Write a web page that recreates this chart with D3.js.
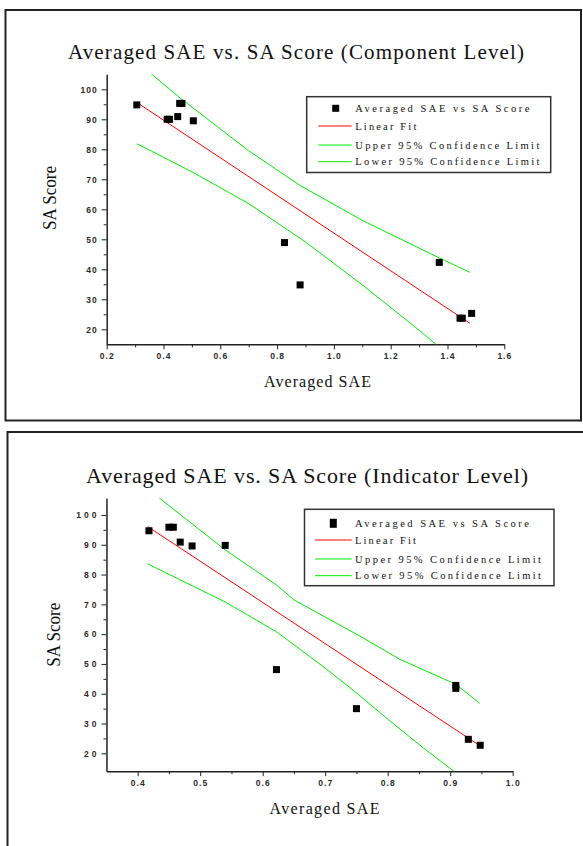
<!DOCTYPE html>
<html>
<head>
<meta charset="utf-8">
<script src="https://cdn.jsdelivr.net/npm/d3@7.9.0/dist/d3.min.js"></script>
<style>
  body { margin: 0; background: #fff; }
  svg { display: block; }
  .axis path, .axis line { stroke: #222; }
  .axis text { font-family: "Liberation Sans", Arial, sans-serif; font-weight: bold; font-size: 8.5px; fill: #2a2a2a; }
  .serif { font-family: "Liberation Serif", "Times New Roman", serif; fill: #111; }
</style>
</head>
<body>
<svg id="chart" width="583" height="846"></svg>
<script>
// -------------------------
// Data
// -------------------------

// Component level
const compSAE   = [0.306, 0.413, 0.421, 0.450, 0.457, 0.465, 0.505, 0.826, 0.881, 1.371, 1.444, 1.452, 1.485];
const compScore = [94.8, 90.0, 90.0, 90.9, 95.3, 95.3, 89.5, 48.9, 34.8, 42.3, 23.7, 23.7, 25.3];
const compFitX = [0.308, 1.479];
const compFitY = [95.5, 22.0];
const compUpperX = [0.308, 0.46, 0.70, 0.88, 1.10, 1.371, 1.479];
const compUpperY = [109.0, 97.0, 79.5, 68.0, 56.3, 43.8, 39.0];
const compLowerX = [0.308, 0.50, 0.70, 0.90, 1.10, 1.30, 1.479];
const compLowerY = [81.8, 72.5, 61.9, 49.1, 34.8, 19.7, 5.5];
const compXTicks = [0.2, 0.4, 0.6, 0.8, 1.0, 1.2, 1.4, 1.6];
const compXMinor = [0.3, 0.5, 0.7, 0.9, 1.1, 1.3, 1.5];

// Indicator level
const indSAE   = [0.418, 0.450, 0.457, 0.468, 0.487, 0.540, 0.622, 0.750, 0.909, 0.909, 0.929, 0.948];
const indScore = [94.7, 95.9, 95.9, 90.9, 89.6, 89.8, 48.1, 35.0, 42.8, 41.8, 24.7, 22.7];
const indFitX = [0.416, 0.948];
const indFitY = [96.1, 22.5];
const indUpperX = [0.418, 0.540, 0.622, 0.650, 0.750, 0.820, 0.909, 0.947];
const indUpperY = [108.4, 88.3, 76.5, 71.5, 60.0, 51.5, 43.2, 36.8];
const indLowerX = [0.416, 0.540, 0.622, 0.697, 0.750, 0.804, 0.857, 0.909, 0.948];
const indLowerY = [83.6, 70.8, 60.8, 49.1, 40.3, 30.8, 21.8, 13.5, 7.0];
const indXTicks = [0.4, 0.5, 0.6, 0.7, 0.8, 0.9, 1.0];
const indXMinor = [0.45, 0.55, 0.65, 0.75, 0.85, 0.95];

// shared
const yTicks = [20, 30, 40, 50, 60, 70, 80, 90, 100];
const yMinor = [25, 35, 45, 55, 65, 75, 85, 95];
const legendLabels = ['Averaged SAE vs SA Score', 'Linear Fit', 'Upper 95% Confidence Limit', 'Lower 95% Confidence Limit'];
const seriesColors = ['#000', '#ff0000', '#00ee00', '#00ee00'];

const svg = d3.select('#chart');

// -------------------------
// panel frames
// -------------------------
svg.append('rect')
  .attr('x', 5.5).attr('y', 10).attr('width', 575.5).attr('height', 410.5)
  .attr('fill', 'none').attr('stroke', '#222').attr('stroke-width', 2);
svg.append('rect')
  .attr('x', 7.5).attr('y', 432).attr('width', 620).attr('height', 500)
  .attr('fill', 'none').attr('stroke', '#222').attr('stroke-width', 2);

// -------------------------
// one panel
// -------------------------
function drawPanel(p) {
  const x = d3.scaleLinear().domain(p.xDomain).range(p.xRange);
  const y = d3.scaleLinear().domain(p.yDomain).range(p.yRange);
  const g = svg.append('g');

  // title
  g.append('text').attr('class', 'serif')
    .attr('x', p.title.x).attr('y', p.title.y)
    .attr('font-size', p.title.size)
    .attr('textLength', p.title.len).attr('lengthAdjust', 'spacing')
    .text(p.title.text);

  // axis titles
  g.append('text').attr('class', 'serif')
    .attr('x', p.xLabel.x).attr('y', p.xLabel.y)
    .attr('font-size', 16)
    .attr('textLength', p.xLabel.len).attr('lengthAdjust', 'spacing')
    .text('Averaged SAE');
  g.append('text').attr('class', 'serif')
    .attr('transform', `translate(${p.yLabel.x},${p.yLabel.y}) rotate(-90)`)
    .attr('font-size', 18)
    .attr('textLength', 64).attr('lengthAdjust', 'spacingAndGlyphs')
    .text('SA Score');

  // minor ticks first
  g.append('g').attr('class', 'axis')
    .attr('transform', `translate(0,${p.yRange[0]})`)
    .call(d3.axisBottom(x).tickValues(p.xMinor).tickSize(3).tickFormat(''))
    .call(a => a.select('.domain').remove());
  g.append('g').attr('class', 'axis')
    .attr('transform', `translate(${p.xRange[0]},0)`)
    .call(d3.axisLeft(y).tickValues(yMinor).tickSize(3).tickFormat(''))
    .call(a => a.select('.domain').remove());

  // main axes
  const xa = g.append('g').attr('class', 'axis')
    .attr('transform', `translate(0,${p.yRange[0]})`)
    .call(d3.axisBottom(x).tickValues(p.xTicks).tickSize(5).tickSizeOuter(0)
      .tickPadding(4).tickFormat(d3.format('.1f')));
  xa.selectAll('text').style('letter-spacing', '1px');
  const ya = g.append('g').attr('class', 'axis')
    .attr('transform', `translate(${p.xRange[0]},0)`)
    .call(d3.axisLeft(y).tickValues(yTicks).tickSize(5).tickSizeOuter(0)
      .tickPadding(p.yPad).tickFormat(d3.format('d')));
  ya.selectAll('text').style('letter-spacing', p.ySpacing + 'px');
  g.selectAll('.axis .domain').attr('stroke-width', 1.5);

  // clip for fit lines
  const clipId = 'clip-' + p.id;
  svg.append('clipPath').attr('id', clipId).append('rect')
    .attr('x', p.xRange[0]).attr('y', p.yRange[1])
    .attr('width', p.xRange[1] - p.xRange[0]).attr('height', p.yRange[0] - p.yRange[1]);

  const line = d3.line().x(d => x(d[0])).y(d => y(d[1]));
  const curves = [
    [p.upperX, p.upperY, seriesColors[2]],
    [p.lowerX, p.lowerY, seriesColors[3]],
    [p.fitX, p.fitY, seriesColors[1]]
  ];
  curves.forEach(([xs, ys, col]) => {
    g.append('path')
      .attr('clip-path', `url(#${clipId})`)
      .attr('d', line(xs.map((v, i) => [v, ys[i]])))
      .attr('fill', 'none').attr('stroke', col).attr('stroke-width', 1);
  });

  // points
  g.selectAll('rect.pt')
    .data(p.sae.map((v, i) => [v, p.score[i]]))
    .join('rect').attr('class', 'pt')
    .attr('x', d => x(d[0]) - 3.5).attr('y', d => y(d[1]) - 3.5)
    .attr('width', 7).attr('height', 7).attr('fill', '#000');

  // legend
  const L = p.legend;
  g.append('rect')
    .attr('x', L.x0).attr('y', L.y0).attr('width', L.x1 - L.x0).attr('height', L.y1 - L.y0)
    .attr('fill', '#fff').attr('stroke', '#333').attr('stroke-width', 1.5);
  legendLabels.forEach((lab, i) => {
    const cy = L.rows[i];
    if (i === 0) {
      g.append('rect').attr('x', L.mark - 3.5).attr('y', cy - L.mh / 2)
        .attr('width', 7).attr('height', L.mh).attr('fill', '#000');
    } else {
      g.append('line').attr('x1', L.lx0).attr('x2', L.lx1).attr('y1', cy).attr('y2', cy)
        .attr('stroke', seriesColors[i]).attr('stroke-width', 1);
    }
    g.append('text').attr('class', 'serif')
      .attr('x', L.tx).attr('y', cy + 3.5)
      .attr('font-size', 10.5)
      .attr('textLength', L.lens[i]).attr('lengthAdjust', 'spacing')
      .text(lab);
  });
}

drawPanel({
  id: 'comp',
  xDomain: [0.2, 1.6], xRange: [106.7, 504.3],
  yDomain: [15, 105], yRange: [344.3, 74.3],
  xTicks: compXTicks, xMinor: compXMinor, yPad: 4, ySpacing: 1,
  sae: compSAE, score: compScore,
  fitX: compFitX, fitY: compFitY,
  upperX: compUpperX, upperY: compUpperY,
  lowerX: compLowerX, lowerY: compLowerY,
  title: { text: 'Averaged SAE vs. SA Score (Component Level)', x: 68, y: 58.5, size: 21, len: 456 },
  xLabel: { x: 264, y: 387, len: 107 },
  yLabel: { x: 55.5, y: 230 },
  legend: { x0: 306.7, x1: 550.7, y0: 96.7, y1: 172.5, rows: [108.3, 126, 145, 161.7],
            mark: 335.7, mh: 7, lx0: 318.3, lx1: 351.7, tx: 355.3, lens: [174, 61, 184, 184] }
});

drawPanel({
  id: 'ind',
  xDomain: [0.35, 1.0], xRange: [106.45, 512.7],
  yDomain: [14, 105.6], yRange: [771.2, 498.3],
  xTicks: indXTicks, xMinor: indXMinor, yPad: 2, ySpacing: 3,
  sae: indSAE, score: indScore,
  fitX: indFitX, fitY: indFitY,
  upperX: indUpperX, upperY: indUpperY,
  lowerX: indLowerX, lowerY: indLowerY,
  title: { text: 'Averaged SAE vs. SA Score (Indicator Level)', x: 86, y: 483, size: 22, len: 442 },
  xLabel: { x: 269.5, y: 813.5, len: 110 },
  yLabel: { x: 59.5, y: 666.7 },
  legend: { x0: 304.5, x1: 554, y0: 509.3, y1: 585.7, rows: [523.3, 540, 559, 575.7],
            mark: 333.3, mh: 9, lx0: 315, lx1: 351.7, tx: 355, lens: [174, 61, 186, 186] }
});
</script>
</body>
</html>
